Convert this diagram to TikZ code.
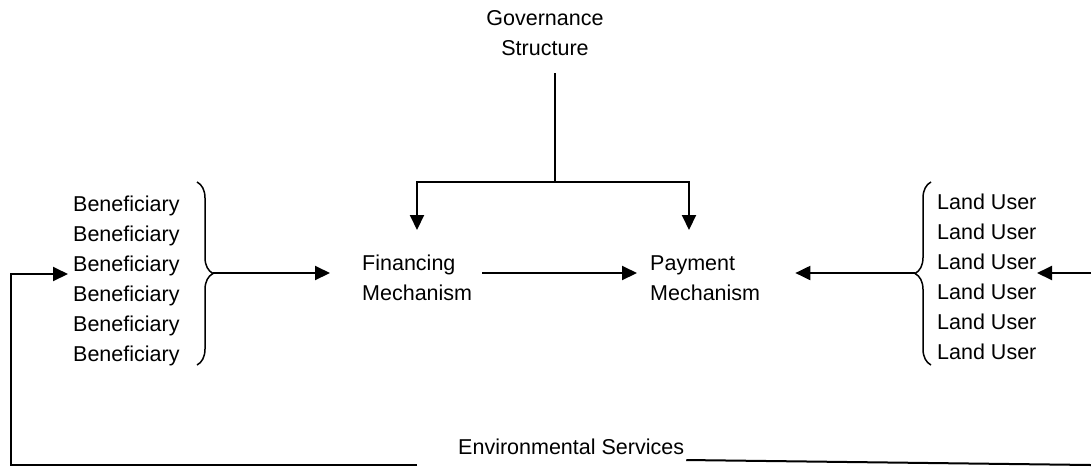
\documentclass[tikz,border=0pt]{standalone}
\usepackage{fontspec}
\setmainfont{Liberation Sans}
\usetikzlibrary{arrows.meta}
\usetikzlibrary{decorations.pathreplacing}

\begin{document}
\begin{tikzpicture}[x=1pt, y=-1pt,
  lbl/.style={inner sep=0pt, anchor=west, align=left, font=\fontsize{21.5}{30}\selectfont},
  arr/.style={-{Triangle[length=15pt, width=14pt]}, line width=2pt},
  ln/.style={line width=2pt},
  stem/.style={line width=1.3pt},
  brc/.style={decorate, decoration={brace, amplitude=16pt}, line width=1.5pt}]
  \useasboundingbox (0,0) rectangle (1091,467);

  \node[lbl, anchor=center, align=center] (gov) at (545, 33) {Governance\\Structure};
  \node[lbl] (ben) at (73, 281) {Beneficiary\\Beneficiary\\Beneficiary\\Beneficiary\\Beneficiary\\Beneficiary};
  \node[lbl] (fin) at (362, 278) {Financing\\Mechanism};
  \node[lbl] (pay) at (650, 278) {Payment\\Mechanism};
  \node[lbl] (land) at (937, 277) {Land User\\Land User\\Land User\\Land User\\Land User\\Land User};
  \node[lbl] (env) at (458, 447) {Environmental Services};

  \coordinate (top) at (555, 73);
  \coordinate (split) at (555, 182);
  \coordinate (finin) at (417, 230);
  \coordinate (payin) at (689, 230);
  \coordinate (btip) at (213, 273);
  \coordinate (ltip) at (915, 273);
  \coordinate (redge) at (1091, 273);
  \coordinate (loopl) at (11, 274);
  \coordinate (loopr) at (1091, 465);

  \draw[stem] (top) -- (split);
  \draw[arr] (split) -| (finin);
  \draw[arr] (split) -| (payin);

  \draw[brc] (197, 182) -- (197, 365);
  \draw[brc] (931, 365) -- (931, 182);

  \draw[arr] (btip) -- ([xshift=-32pt]fin.west |- btip);
  \draw[arr] ([xshift=10pt]fin.east |- btip) -- ([xshift=-13pt]pay.west |- btip);
  \draw[arr] (ltip) -- ([xshift=35pt]pay.east |- btip);
  \draw[arr] (redge) -- ([xshift=100pt]land.west |- redge);

  \draw[arr] (417, 465) -| (loopl) -- ([xshift=-5pt]ben.west |- loopl);
  \draw[ln] ([xshift=2pt]env.east |- 0, 460) -- (loopr);
\end{tikzpicture}
\end{document}
